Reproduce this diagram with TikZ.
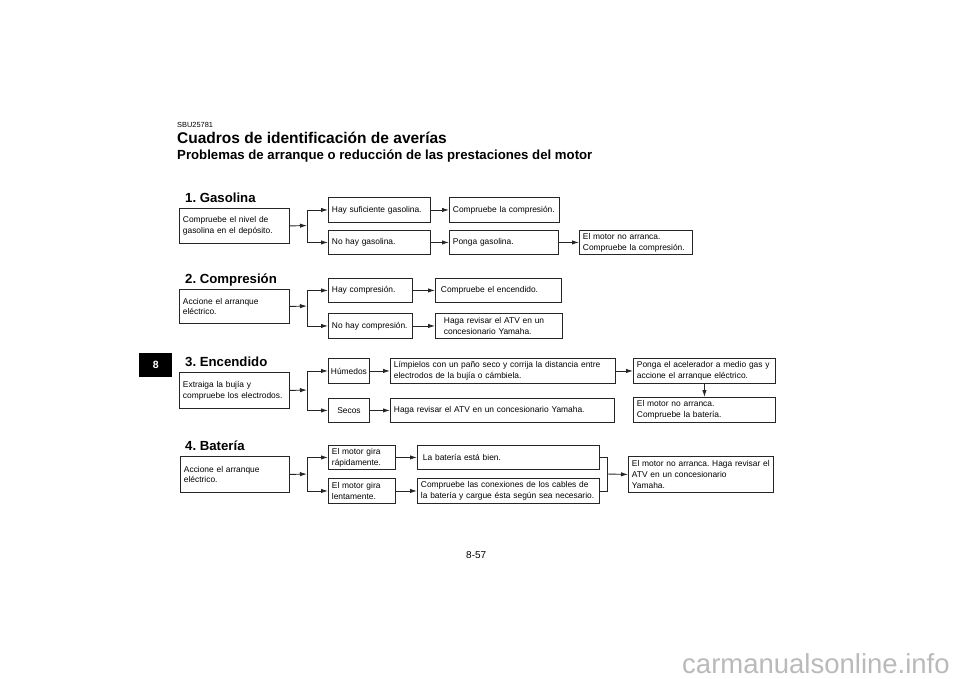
\documentclass[tikz,border=0pt]{standalone}
\usepackage{fontspec}
\newfontfamily\chartfont{Liberation Sans}
\usetikzlibrary{arrows.meta}
\frenchspacing
\newcommand\boxfont{\chartfont\fontsize{8.4}{10.8}\selectfont}
\newcommand\headfont{\chartfont\bfseries\fontsize{13.2}{15}\selectfont}
\tikzset{
  cbox/.style 2 args={draw=black!85, line width=0.9pt, anchor=north west,
    inner xsep=3.5pt, inner ysep=0pt, minimum height=#2pt,
    /utils/exec={\pgfmathsetlengthmacro\cboxtw{#1pt-7pt}}, text width=\cboxtw,
    align=left, font=\boxfont},
  flow/.style={draw=black!85, line width=0.9pt, -{Latex[length=7pt, width=4.4pt]}},
  joint/.style={draw=black!85, line width=0.9pt},
  heading/.style={anchor=base west, inner sep=0pt, font=\headfont},
}

\begin{document}
\begin{tikzpicture}[x=1pt, y=-1pt]
\useasboundingbox (0,0) rectangle (960,679);
\path[fill=white] (0,0) rectangle (960,679);
% page head
\node[anchor=base west, inner sep=0pt, font=\chartfont\fontsize{7.4}{8}\selectfont]
  (code) at (177,128) {SBU25781};
\node[anchor=base west, inner sep=0pt, font=\chartfont\bfseries\fontsize{15.5}{17}\selectfont]
  (title) at (177,144) {Cuadros de identificación de averías};
\node[heading] (subtitle) at (177,159.5) {Problemas de arranque o reducción de las prestaciones del motor};
\node[fill=black, text=white, minimum width=33pt, minimum height=24pt, inner sep=0pt,
  anchor=north west, font=\chartfont\bfseries\fontsize{10.5}{12}\selectfont] (tab) at (139,353) {8};
% 1. Gasolina
\node[heading] (head1) at (185,202) {1. Gasolina};
\node[cbox={110}{35}] (gas) at (179,208) {Compruebe el nivel de\\gasolina en el depósito.};
\node[cbox={102}{25}] (gasok) at (328,197) {Hay suficiente gasolina.};
\node[cbox={102}{24}] (gasno) at (328,230) {No hay gasolina.};
\node[cbox={110}{25}] (gascomp) at (449,197) {Compruebe la compresión.};
\node[cbox={109}{24}] (gasfill) at (449,230) {Ponga gasolina.};
\node[cbox={113}{24}] (gasfail) at (579,230) {El motor no arranca.\\Compruebe la compresión.};
\coordinate (gasfork) at (307,225.5);
\draw[flow] (gas.east) -- (gasfork);
\draw[flow] (gasfork) |- (gasok.west);
\draw[flow] (gasfork) |- (gasno.west);
\draw[flow] (gasok.east) -- (gascomp.west);
\draw[flow] (gasno.east) -- (gasfill.west);
\draw[flow] (gasfill.east) -- (gasfail.west);
% 2. Compresión
\node[heading] (head2) at (185,283) {2. Compresión};
\node[cbox={110}{34}] (comp) at (179,289) {Accione el arranque\\eléctrico.};
\node[cbox={84}{24}] (compok) at (328,278) {Hay compresión.};
\node[cbox={84}{25}] (compno) at (328,313) {No hay compresión.};
\node[cbox={126}{24}] (compnext) at (435,278) {\hspace*{2pt}Compruebe el encendido.};
\node[cbox={127}{25}] (compdeal) at (435,313) {\hspace*{5pt}Haga revisar el ATV en un\\\hspace*{5pt}concesionario Yamaha.};
\coordinate (compfork) at (307,306);
\draw[flow] (comp.east) -- (compfork);
\draw[flow] (compfork) |- (compok.west);
\draw[flow] (compfork) |- (compno.west);
\draw[flow] (compok.east) -- (compnext.west);
\draw[flow] (compno.east) -- (compdeal.west);
% 3. Encendido
\node[heading] (head3) at (185,366) {3. Encendido};
\node[cbox={110}{36}] (spark) at (179,372) {Extraiga la bujía y\\compruebe los electrodos.};
\node[cbox={41}{25}, inner xsep=1pt, text width=39pt, align=center] (wet) at (328,358) {Húmedos};
\node[cbox={41}{24}, inner xsep=1pt, text width=39pt, align=center] (dry) at (328,398) {Secos};
\node[cbox={225}{25}] (clean) at (390,358) {Límpielos con un paño seco y corrija la distancia entre\\electrodos de la bujía o cámbiela.};
\node[cbox={224}{24}] (drydeal) at (390,398) {Haga revisar el ATV en un concesionario Yamaha.};
\node[cbox={142}{25}] (throttle) at (633,358) {Ponga el acelerador a medio gas y\\accione el arranque eléctrico.};
\node[cbox={142}{25}] (sparkfail) at (633,397) {El motor no arranca.\\Compruebe la batería.};
\coordinate (sparkfork) at (307,390);
\draw[flow] (spark.east) -- (sparkfork);
\draw[flow] (sparkfork) |- (wet.west);
\draw[flow] (sparkfork) |- (dry.west);
\draw[flow] (wet.east) -- (clean.west);
\draw[flow] (dry.east) -- (drydeal.west);
\draw[flow] (clean.east) -- (throttle.west);
\draw[flow] (throttle.south) -- (sparkfail.north);
% 4. Batería
\node[heading] (head4) at (185,450) {4. Batería};
\node[cbox={109}{36}] (batt) at (180,456) {Accione el arranque\\eléctrico.};
\node[cbox={67}{24}] (fast) at (328,445) {El motor gira\\rápidamente.};
\node[cbox={67}{25}] (slow) at (328,478) {El motor gira\\lentamente.};
\node[cbox={182}{24}] (battok) at (417,445) {\hspace*{2pt}La batería está bien.};
\node[cbox={182}{25}] (battchk) at (417,478) {Compruebe las conexiones de los cables de\\la batería y cargue ésta según sea necesario.};
\node[cbox={145}{36}] (battfail) at (628,456) {El motor no arranca. Haga revisar el\\ATV en un concesionario\\Yamaha.};
\coordinate (battfork) at (307,474);
\coordinate (battjoin) at (607,474);
\draw[flow] (batt.east) -- (battfork);
\draw[flow] (battfork) |- (fast.west);
\draw[flow] (battfork) |- (slow.west);
\draw[flow] (fast.east) -- (battok.west);
\draw[flow] (slow.east) -- (battchk.west);
\draw[joint] (battok.east) -| (battjoin) |- (battchk.east);
\draw[flow] (battjoin) -- (battfail.west);
% page foot
\node[anchor=base west, inner sep=0pt, font=\chartfont\fontsize{10}{12}\selectfont]
  (page) at (466,558) {8-57};
\node[anchor=base west, inner sep=0pt, text=black!27, font=\chartfont\fontsize{27.5}{30}\selectfont]
  (mark) at (682,673) {carmanualsonline.info};
\end{tikzpicture}
\end{document}
